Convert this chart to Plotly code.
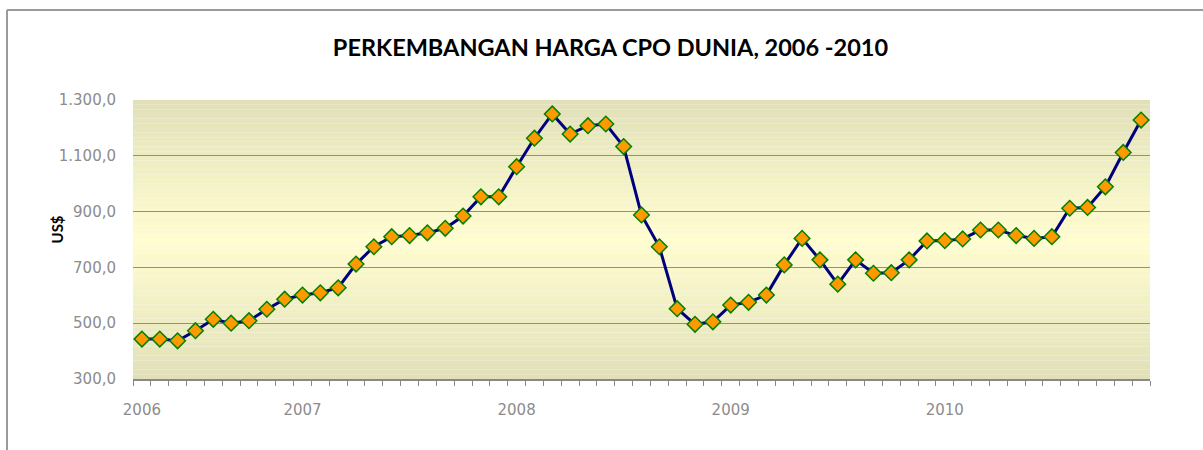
import plotly.graph_objects as go

# ---- data ----
month_index = list(range(57))
prices = [443, 443, 437, 473, 514, 500, 509, 550, 586, 601, 609, 627,
          712, 774, 810, 814, 824, 840, 884, 953, 953, 1061, 1163, 1250,
          1178, 1208, 1214, 1133, 888, 774, 552, 496, 505, 565, 575, 601,
          709, 804, 727, 640, 727, 679, 681, 727, 795, 796, 802, 834,
          834, 814, 804, 810, 912, 915, 989, 1112, 1228]
year_labels = ["2006", "2007", "2008", "2009", "2010"]
year_positions = [0, 9, 21, 33, 45]
y_ticks = [300, 500, 700, 900, 1100, 1300]

title_text = "PERKEMBANGAN HARGA CPO DUNIA, 2006 -2010"
y_title = "US$"

fig = go.Figure()
fig.add_trace(go.Scatter(
    x=month_index, y=prices, mode="lines+markers",
    line=dict(color="#00007f", width=3),
    marker=dict(symbol="diamond", size=12, color="#ff9900",
                line=dict(color="#008000", width=1.5)),
    showlegend=False, cliponaxis=False,
))

# gradient background (bands)
shapes = []
N = 60
top = (226, 224, 184)
mid = (255, 253, 208)
for k in range(N):
    t = (k + 0.5) / N
    f = 1 - abs(t - 0.5) * 2
    c = tuple(int(round(top[j] + (mid[j] - top[j]) * f)) for j in range(3))
    shapes.append(dict(type="rect", xref="paper", yref="paper",
                       x0=0, x1=1, y0=k / N, y1=(k + 1) / N,
                       fillcolor="rgb(%d,%d,%d)" % c, line=dict(width=0),
                       layer="below"))

# chart frame (left and top borders)
W, H = 1203, 450
L, R, T, B = 133, 53, 100, 71
pw, ph = W - L - R, H - T - B
def px(xp):
    return (xp - L) / pw
def py(yp):
    return (H - B - yp) / ph
shapes.append(dict(type="line", xref="paper", yref="paper",
                   x0=px(7), x1=px(7), y0=py(10), y1=py(452),
                   line=dict(color="#9a9a9a", width=2)))
shapes.append(dict(type="line", xref="paper", yref="paper",
                   x0=px(7), x1=px(1205), y0=py(10), y1=py(10),
                   line=dict(color="#9a9a9a", width=2)))

fig.update_layout(
    width=W, height=H,
    margin=dict(l=L, r=R, t=T, b=B),
    paper_bgcolor="white",
    plot_bgcolor="rgba(0,0,0,0)",
    separators=",.",
    shapes=shapes,
    title=dict(text=title_text, x=610.5 / W, xanchor="center",
               y=1 - 48 / H, yanchor="middle",
               font=dict(family="Lato", size=23.5, color="black", weight="bold")),
    annotations=[dict(text="<b>" + y_title + "</b>", xref="paper", yref="paper",
                      x=px(45.5), y=py(230), textangle=-90, showarrow=False,
                      font=dict(family="Lato", size=15, color="black"))],
    xaxis=dict(
        range=[-0.5, 56.5], tickmode="array", tickvals=year_positions,
        ticktext=year_labels, ticks="", ticklabelstandoff=16,
        showgrid=False, zeroline=False,
        showline=True, linecolor="#888888", linewidth=2,
        tickfont=dict(family="DejaVu Sans", size=15, color="#8c8c8c"),
        minor=dict(tickmode="linear", tick0=-0.5, dtick=1, ticks="outside",
                   ticklen=5, tickwidth=1, tickcolor="#888888", showgrid=False),
    ),
    yaxis=dict(
        range=[300, 1300], tickmode="array", tickvals=y_ticks,
        tickformat=",.1f", showgrid=True, gridcolor="#8f8f8f", gridwidth=1.3,
        zeroline=False, showline=False, ticks="", ticklabelstandoff=16,
        tickfont=dict(family="DejaVu Sans", size=15, color="#8c8c8c"),
    ),
)

fig.write_html("out.html",
               config={"displayModeBar": False},
               post_script="document.body.style.margin='0';document.body.style.overflow='hidden';")
